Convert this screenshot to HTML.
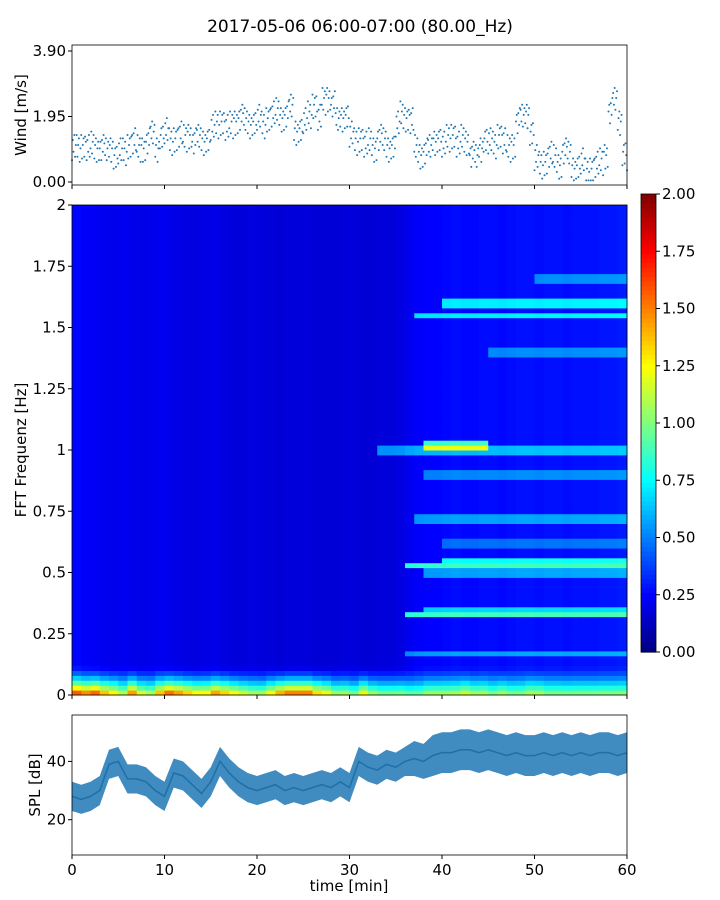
<!DOCTYPE html>
<html><head><meta charset="utf-8">
<style>
body{margin:0;background:#fff;}
svg{display:block;font-family:"DejaVu Sans","Liberation Sans",sans-serif;}
</style></head>
<body>
<svg id="fig" width="720" height="900" viewBox="0 0 720 900">
<text x="360" y="32" text-anchor="middle" font-size="17" fill="#000">2017-05-06 06:00-07:00 (80.00_Hz)</text>
<g id="wind"></g>
<g id="spec"></g>
<g id="cbar"></g>
<g id="spl"></g>
</svg>
<script>
// ---- data ----
const windValues=[1.0,1.0,1.1,1.0,1.1,1.0,1.0,0.9,1.0,0.8,0.9,0.9,1.1,1.2,1.0,1.0,1.2,1.4,1.0,1.4,1.5,1.2,1.3,1.4,1.3,1.4,1.2,1.3,1.2,1.3,1.6,1.7,1.8,1.6,1.7,1.8,1.9,1.8,1.7,1.8,1.9,1.7,1.9,2.0,2.1,1.9,2.0,2.2,1.5,1.6,1.8,2.0,2.3,1.9,2.4,2.5,2.3,1.8,1.9,2.0,1.4,1.2,1.3,1.1,1.2,1.0,1.3,1.2,1.0,1.1,1.7,2.0,1.9,1.8,1.0,0.8,0.9,1.0,1.2,1.3,1.1,1.3,1.4,1.1,1.3,1.2,0.8,0.7,1.0,1.3,1.2,1.1,1.4,1.2,1.0,1.1,1.8,1.9,2.0,1.5,0.7,0.5,0.6,0.8,0.7,0.5,0.9,0.8,0.4,0.5,0.6,0.3,0.4,0.5,0.6,0.8,2.1,2.4,1.8,0.9,0.7];
const windJitter=[-0.35,0.25,-0.1,0.4,-0.25,0.1,0.3,-0.4,0.0,0.2];
const windTicks=[0,1.95,3.9];
const windTickLabels=["0.00","1.95","3.90"];
const specBase=[0.26,0.24,0.23,0.22,0.21,0.22,0.21,0.2,0.21,0.22,0.21,0.2,0.19,0.19,0.2,0.2,0.19,0.18,0.18,0.19,0.18,0.18,0.17,0.18,0.18,0.18,0.17,0.17,0.17,0.18,0.18,0.17,0.17,0.18,0.18,0.19,0.22,0.24,0.25,0.25,0.26,0.27,0.26,0.26,0.27,0.27,0.26,0.27,0.28,0.28,0.27,0.28,0.28,0.27,0.28,0.28,0.28,0.29,0.29,0.3];
const specLow=[1.5,1.4,1.5,1.3,1.2,1.0,1.4,1.1,1.0,1.3,1.5,1.4,1.3,1.2,1.2,1.4,1.3,1.2,1.1,1.0,1.0,1.2,1.4,1.5,1.5,1.5,1.3,1.2,1.0,1.0,0.9,1.2,1.0,0.9,0.9,0.9,0.8,0.8,0.9,0.9,0.9,0.9,1.0,0.9,0.9,0.8,0.9,0.8,0.8,0.9,0.9,0.8,0.8,0.8,0.8,0.8,0.8,0.8,0.8,0.8];
const lineFreq=[1.0,1.02,0.33,0.35,0.53,0.55,0.5,1.55,1.6,0.72,0.9,1.4,0.17,1.7,0.62];
const lineStart=[33,38,36,38,36,40,38,37,40,37,38,45,36,50,40];
const lineEnd=[60,45,60,60,60,60,60,60,60,60,60,60,60,60,60];
const lineAmp=[0.35,0.6,0.6,0.4,0.6,0.5,0.3,0.45,0.45,0.3,0.25,0.25,0.3,0.25,0.2];
const specYTicks=[0,0.25,0.5,0.75,1,1.25,1.5,1.75,2];
const specYLabels=["0","0.25","0.5","0.75","1","1.25","1.5","1.75","2"];
const cbarTicks=[0,0.25,0.5,0.75,1,1.25,1.5,1.75,2];
const splValues=[28,27,28,30,39,40,34,34,33,30,28,36,35,32,29,33,40,36,33,31,30,31,32,30,31,30,31,32,31,33,31,40,38,37,39,38,40,41,40,42,43,43,44,44,43,44,43,42,43,42,42,43,42,43,42,43,42,43,43,42,43];
const splSpread=[5,5,5,5,5,5,5,5,5,5,5,5,5,5,5,5,5,5,5,5,5,5,5,5,5,5,5,5,5,5,5,5,5,5,5,5,5,6,6,7,7,7,7,7,7,7,7,7,7,7,7,7,7,7,7,7,7,7,7,7,7];
const splTicks=[20,40];
const xTicks=[0,10,20,30,40,50,60];

const NS="http://www.w3.org/2000/svg";
function mk(tag,attrs,parent){const e=document.createElementNS(NS,tag);for(const k in attrs)e.setAttribute(k,attrs[k]);parent.appendChild(e);return e;}
const X0=72,X1=627;
const xs=t=>X0+(t/60)*(X1-X0);

// ---- wind panel ----
const gw=document.getElementById('wind');
const wy=v=>182-(v/3.9)*(182-51);
const wg=mk('g',{},gw);


windValues.forEach((v,i)=>{
  for(let k=0;k<6;k++){
    const j=windJitter[(i*3+k)%windJitter.length];
    const t=i*0.5+k*0.083;
    if(t>60)continue;
    const c=mk('circle',{cx:xs(t),cy:wy(Math.max(0.05,v+j)),r:1,fill:'#1f77b4'},wg);
    
    
  }
});
mk('rect',{x:X0,y:45,width:X1-X0,height:140,fill:'none',stroke:'#000','stroke-width':0.8},gw);
windTicks.forEach((v,i)=>{
  mk('line',{x1:X0-4,x2:X0,y1:wy(v),y2:wy(v),stroke:'#000'},gw);
  const t=mk('text',{x:X0-6,y:wy(v)+5,'text-anchor':'end','font-size':15},gw);t.textContent=windTickLabels[i];
  
  
});
xTicks.forEach(v=>mk('line',{x1:xs(v),x2:xs(v),y1:185,y2:189,stroke:'#000'},gw));
let wl=mk('text',{x:26,y:115,'text-anchor':'middle','font-size':15,transform:'rotate(-90 26 115)'},gw);wl.textContent='Wind [m/s]';



// ---- spectrogram ----
function jet(v){v=Math.max(0,Math.min(1,v));
  const r=Math.max(0,Math.min(1,1.5-Math.abs(4*v-3)));
  const g=Math.max(0,Math.min(1,1.5-Math.abs(4*v-2)));
  const b=Math.max(0,Math.min(1,1.5-Math.abs(4*v-1)));
  return `rgb(${Math.round(r*255)},${Math.round(g*255)},${Math.round(b*255)})`;}
const gs=document.getElementById('spec');
const SY0=695,SY1=205;
const fy=f=>SY0-(f/2)*(SY0-SY1);
const nF=100;
specBase.forEach((b,ci)=>{
  for(let fi=0;fi<nF;fi++){
    const f=(fi+0.5)*2/nF;
    let v=b;
    if(f<0.12) v+=specLow[ci]*Math.pow(1-f/0.12,1.5);
    const t=ci+0.5;
    lineFreq.forEach((lf,li)=>{
      if(t>=lineStart[li]&&t<=lineEnd[li]&&Math.abs(f-lf)<0.012) v+=lineAmp[li];
    });
    const r=mk('rect',{x:xs(ci),y:fy(fi*2/nF+2/nF),width:xs(ci+1)-xs(ci)+0.5,height:(SY0-SY1)/nF+0.5,fill:jet(v/2)},gs);
    
    
  }
});
mk('rect',{x:X0,y:SY1,width:X1-X0,height:SY0-SY1,fill:'none',stroke:'#000','stroke-width':0.8},gs);
specYTicks.forEach((v,i)=>{
  mk('line',{x1:X0-4,x2:X0,y1:fy(v),y2:fy(v),stroke:'#000'},gs);
  const t=mk('text',{x:X0-6,y:fy(v)+5,'text-anchor':'end','font-size':15},gs);t.textContent=specYLabels[i];
  
  
});
xTicks.forEach(v=>mk('line',{x1:xs(v),x2:xs(v),y1:SY0,y2:SY0+4,stroke:'#000'},gs));
let sl=mk('text',{x:26,y:450,'text-anchor':'middle','font-size':15,transform:'rotate(-90 26 450)'},gs);sl.textContent='FFT Frequenz [Hz]';



// ---- colorbar ----
const gc=document.getElementById('cbar');
const CY0=652,CY1=194;
const cy=v=>CY0-(v/2)*(CY0-CY1);
for(let i=0;i<100;i++){mk('rect',{x:641,y:CY0-(i+1)*(CY0-CY1)/100,width:15,height:(CY0-CY1)/100+0.6,fill:jet((i+0.5)/100)},gc);}
mk('rect',{x:641,y:CY1,width:15,height:CY0-CY1,fill:'none',stroke:'#000','stroke-width':0.8},gc);
cbarTicks.forEach(v=>{
  mk('line',{x1:656,x2:660,y1:cy(v),y2:cy(v),stroke:'#000'},gc);
  const t=mk('text',{x:662,y:cy(v)+5,'font-size':15},gc);t.textContent=v.toFixed(2);
  
  
});

// ---- SPL ----
const gp=document.getElementById('spl');
const PY0=855,PY1=715;
const py=v=>878-(v/20)*58.3;
let up='',lo='',ln='';
splValues.forEach((v,i)=>{up+=`${xs(i)},${py(v+splSpread[i])} `;lo=`${xs(i)},${py(v-splSpread[i])} `+lo;ln+=`${xs(i)},${py(v)} `;});
const band=mk('polygon',{points:up+lo,fill:'#1f77b4','fill-opacity':0.85},gp);


const line=mk('polyline',{points:ln,fill:'none',stroke:'#1f6fa8','stroke-width':1.5},gp);


mk('rect',{x:X0,y:PY1,width:X1-X0,height:PY0-PY1,fill:'none',stroke:'#000','stroke-width':0.8},gp);
splTicks.forEach(v=>{
  mk('line',{x1:X0-4,x2:X0,y1:py(v),y2:py(v),stroke:'#000'},gp);
  const t=mk('text',{x:X0-6,y:py(v)+5,'text-anchor':'end','font-size':15},gp);t.textContent=v;
  
  
});
xTicks.forEach(v=>{
  mk('line',{x1:xs(v),x2:xs(v),y1:PY0,y2:PY0+4,stroke:'#000'},gp);
  const t=mk('text',{x:xs(v),y:PY0+20,'text-anchor':'middle','font-size':15},gp);t.textContent=v;
  
  
});
let pl=mk('text',{x:40,y:785,'text-anchor':'middle','font-size':15,transform:'rotate(-90 40 785)'},gp);pl.textContent='SPL [dB]';


let xl=mk('text',{x:349,y:891,'text-anchor':'middle','font-size':15},gp);xl.textContent='time [min]';


</script>
</body></html>
